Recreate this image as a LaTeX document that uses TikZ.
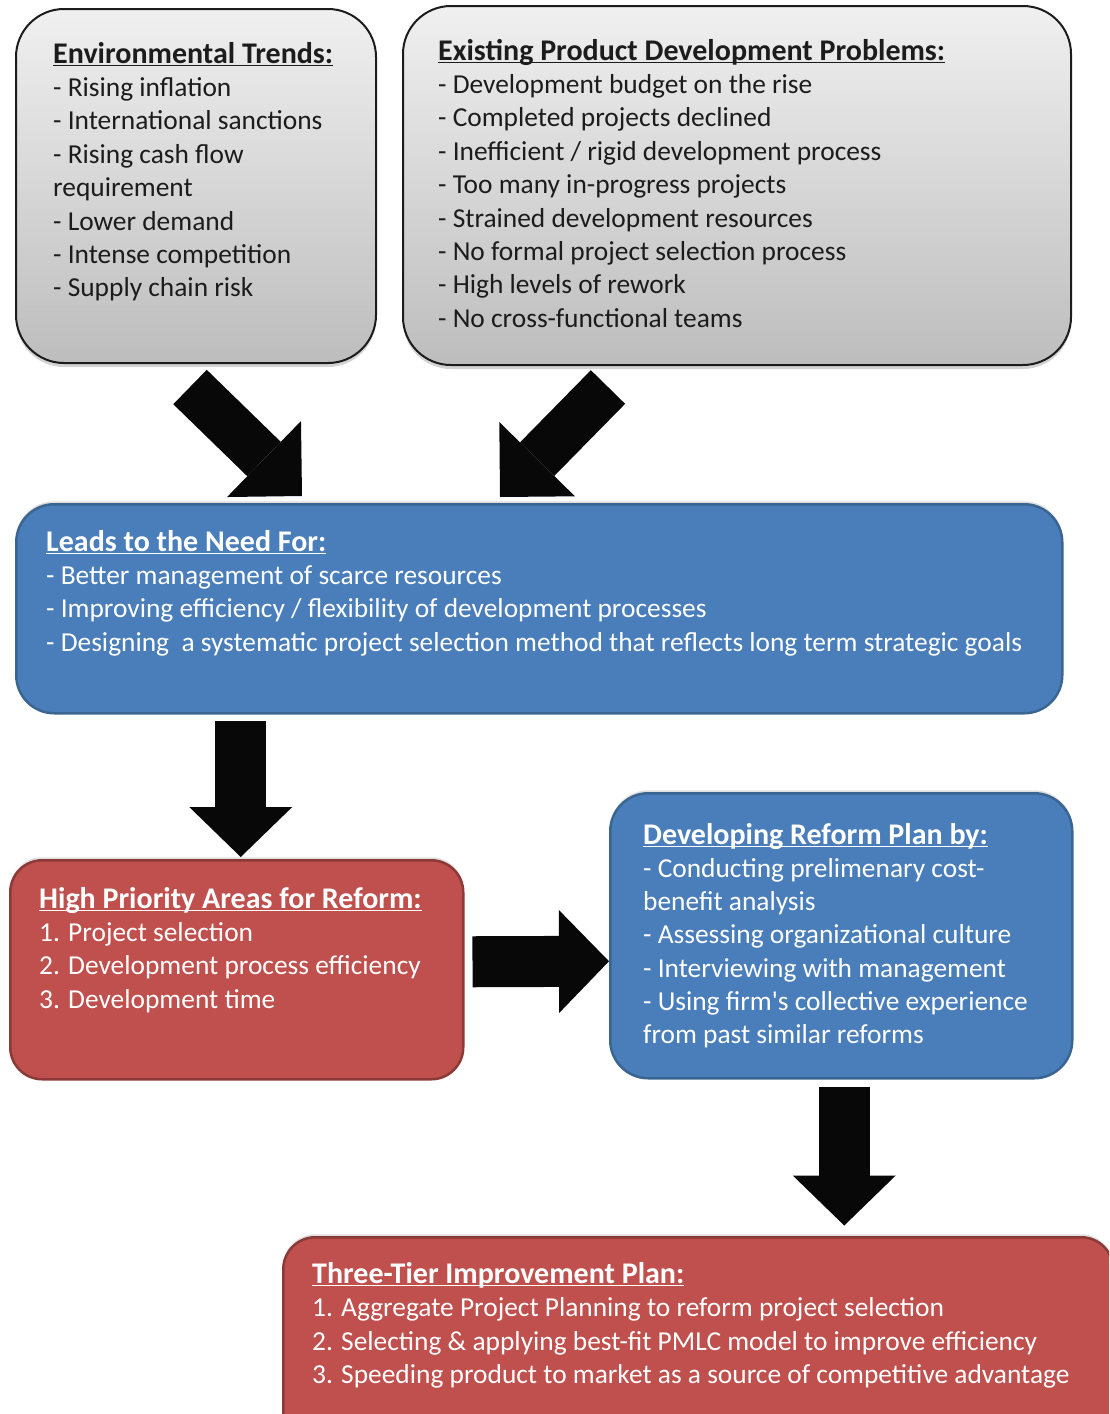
\documentclass[tikz,border=0pt]{standalone}
\usepackage{fontspec}
\setmainfont{Carlito}
\usetikzlibrary{arrows.meta,shadows,calc}

\definecolor{boxblue}{HTML}{4A7EBB}
\definecolor{blueedge}{HTML}{3A6592}
\definecolor{boxred}{HTML}{C0504D}
\definecolor{rededge}{HTML}{8C3A37}
\definecolor{graytop}{HTML}{F0F0F0}
\definecolor{graybot}{HTML}{BDBDBD}
\definecolor{ink}{HTML}{1C1C1C}
\definecolor{arrowblack}{HTML}{080808}

% bold underlined heading, the rule crossing the descenders
\newsavebox\headbox
\newcommand\heading[1]{\sbox\headbox{\fontsize{30pt}{36pt}\selectfont\bfseries #1}%
  \rlap{\usebox\headbox}\rule[-0.12em]{\wd\headbox}{0.055em}}

\tikzset{
  panel/.style={anchor=north west, inner sep=0pt},
  graypanel/.style={panel, rounded corners=48pt, draw=ink, line width=2pt,
    top color=graytop, bottom color=graybot,
    drop shadow={shadow xshift=0pt, shadow yshift=-4pt, opacity=.35}},
  bluepanel/.style={panel, rounded corners=38pt, draw=blueedge, line width=2.5pt, fill=boxblue,
    drop shadow={shadow xshift=0pt, shadow yshift=3pt, opacity=.25}},
  redpanel/.style={panel, rounded corners=32pt, draw=rededge, line width=2.5pt, fill=boxred,
    drop shadow={shadow xshift=0pt, shadow yshift=3pt, opacity=.25}},
  line/.style={anchor=base west, inner sep=0pt, font=\fontsize{27.4pt}{33pt}\selectfont},
  darkline/.style={line, text=ink},
  lightline/.style={line, text=white},
  straightarrow/.style={draw=arrowblack, line width=51pt,
    -{Triangle[length=50pt, width=103pt, line width=0pt]}},
  slantarrow/.style={draw=arrowblack, line width=48pt,
    -{Triangle[length=53pt, width=106pt, line width=0pt]}},
}

\begin{document}
\begin{tikzpicture}[x=1pt, y=-1pt]
\useasboundingbox (0,0) rectangle (1109,1414);
\clip (0,0) rectangle (1109,1414);

% panels
\node[graypanel, minimum width=360pt, minimum height=354pt] (E) at (15,8) {};
\node[graypanel, minimum width=668pt, minimum height=359pt] (P) at (402,5) {};
\node[bluepanel, minimum width=1046pt, minimum height=209pt] (A) at (15,503) {};
\node[redpanel, minimum width=453pt, minimum height=219pt] (B) at (9,859) {};
\node[bluepanel, minimum width=462pt, minimum height=285pt] (C) at (609,792) {};
\node[redpanel, minimum width=830pt, minimum height=230pt] (D) at (282,1236) {};

% environmental trends
\node[darkline] (E0) at (53,63) {\heading{Environmental Trends:}};
\foreach \t [count=\i] in {{- Rising inflation}, {- International sanctions},
  {- Rising cash flow}, {requirement}, {- Lower demand},
  {- Intense competition}, {- Supply chain risk}}
  \node[darkline] (E\i) at (53,63+33.4*\i) {\t};

% existing problems
\node[darkline] (P0) at (438,60) {\heading{Existing Product Development Problems:}};
\foreach \t [count=\i] in {{- Development budget on the rise},
  {- Completed projects declined}, {- Inefficient / rigid development process},
  {- Too many in-progress projects}, {- Strained development resources},
  {- No formal project selection process}, {- High levels of rework},
  {- No cross-functional teams}}
  \node[darkline] (P\i) at (438,60+33.4*\i) {\t};

% needs
\node[lightline] (A0) at (46,551) {\heading{Leads to the Need For:}};
\foreach \t [count=\i] in {{- Better management of scarce resources},
  {- Improving efficiency / flexibility of development processes},
  {- Designing\ \ a systematic project selection method that reflects long term strategic goals}}
  \node[lightline] (A\i) at (46,551+33.4*\i) {\t};

% priority areas
\node[lightline] (B0) at (39,908) {\heading{High Priority Areas for Reform:}};
\foreach \t [count=\i] in {{1. Project selection},
  {2. Development process efficiency}, {3. Development time}}
  \node[lightline] (B\i) at (39,908+33.4*\i) {\t};

% reform plan
\node[lightline] (C0) at (643,844) {\heading{Developing Reform Plan by:}};
\foreach \t [count=\i] in {{- Conducting prelimenary cost-}, {benefit analysis},
  {- Assessing organizational culture}, {- Interviewing with management},
  {- Using firm\textquotesingle s collective experience}, {from past similar reforms}}
  \node[lightline] (C\i) at (643,844+33.3*\i) {\t};

% improvement plan
\node[lightline] (D0) at (312,1283) {\heading{Three-Tier Improvement Plan:}};
\foreach \t [count=\i] in {{1. Aggregate Project Planning to reform project selection},
  {2. Selecting \& applying best-fit PMLC model to improve efficiency},
  {3. Speeding product to market as a source of competitive advantage}}
  \node[lightline] (D\i) at (312,1283+33.5*\i) {\t};

% block arrows
\draw[slantarrow] ($(E.south)+(-6,23)$) -- ($(A.north west)+(287,-7)$);
\draw[slantarrow] ($(P.south)+(-129,21)$) -- ($(A.north west)+(485,-6)$);
\draw[straightarrow] ($(A.south -| B.north)+(4,6)$) -- ($(B.north)+(4,-2)$);
\draw[straightarrow] ($(B.east)+(8,-8)$) -- ($(C.west)+(0,25.5)$);
\draw[straightarrow] ($(C.south)+(3,7)$) -- ($(C.south)+(3,146)$);
\end{tikzpicture}
\end{document}
